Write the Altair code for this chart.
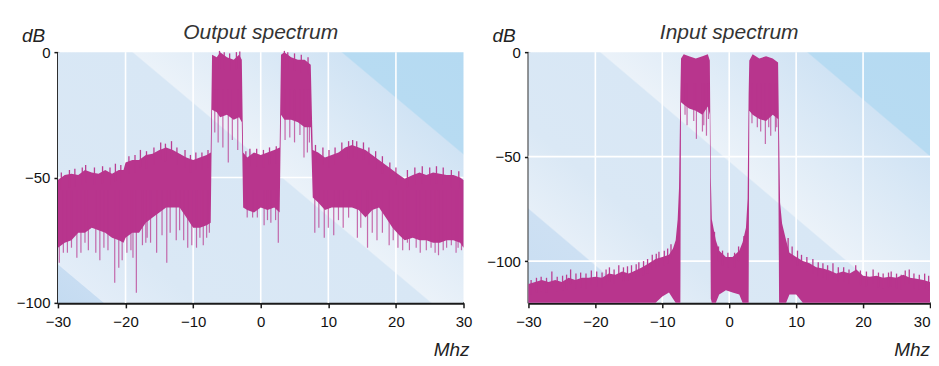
import altair as alt
import pandas as pd

MAG = "#b8358d"
H = 251
W_L = 406
W_R = 402

titles = ["Output spectrum", "Input spectrum"]
x_ticks = [-30, -20, -10, 0, 10, 20, 30]
x_grid = [-20, -10, 0, 10, 20]

# ---------------- Output spectrum (left) ----------------
out_f = [-30, -29, -28, -27, -26, -25, -24, -23, -22, -21, -20.3, -20, -19, -18, -17, -16,
         -15, -14, -13, -12, -11, -10, -9, -8, -7.4, -7.2, -6.5, -6, -5, -4, -3.2, -2.8,
         -2.6, -2, -1, 0, 1, 2, 2.8, 3.0, 3.5, 4.5, 5.5, 6.5, 7.4, 7.7, 8.5, 9.5, 10.5,
         11.5, 12.5, 13.5, 14.5, 15.5, 16.5, 17.5, 18.5, 19.5, 20.5, 21.3, 22.5, 23.5,
         24.5, 25.5, 26.5, 27.5, 28.5, 29.5, 30]
out_up = [-51, -49, -48.5, -49, -47, -48, -48.5, -47, -48.5, -47, -47, -44, -43, -43, -41, -40.5,
          -39, -38, -39, -40.5, -42, -43, -42, -41, -40, -1, -2, 0, -2, -3, -1, -3,
          -40, -42, -40, -41, -40, -39, -38, -1, 0, -2, -3, -3, -5, -39, -40, -42, -41,
          -40, -38, -37, -38, -39, -41, -43, -45, -47, -49, -50.5, -49, -48,
          -49, -48, -48.5, -49, -49, -50, -51]
out_lo = [-78, -76, -75, -72, -72, -70, -71, -72, -74, -75, -76, -74, -72, -72, -68, -66,
          -64, -62, -62, -62, -66, -70, -70, -69, -68, -23, -24, -26, -25, -27, -26, -28,
          -62, -63, -64, -62, -63, -62, -64, -25, -27, -27, -28, -30, -30, -58, -60, -63, -62,
          -62, -62, -62, -63, -66, -63, -62, -66, -70, -73, -75, -74, -75,
          -75, -76, -76, -75, -75, -76, -78]

out_spike_f = [-29.8, -29.2, -28.6, -28.0, -27.2, -26.6, -26.0, -25.5, -24.4, -23.8, -23.2,
               -22.6, -21.6, -21.0, -20.5, -19.8, -19.2, -18.9, -18.4, -17.5, -17.0, -16.8,
               -16.3, -15.4, -14.6, -13.9, -13.4, -12.5, -12.0, -11.4, -10.8, -10.2, -9.5,
               -9.0, -8.5, -8.0, -7.6, -6.8, -6.3, -5.6, -4.8, -4.2, -3.4, -2.0, -1.2, -0.5,
               0.5, 1.0, 1.5, 2.2, 2.6, 3.6, 4.3, 5.0, 5.8, 6.4, 6.9, 7.2, 8.0, 8.6, 9.4,
               10.0, 10.8, 11.5, 12.2, 13.0, 14.3, 14.8, 15.8, 16.5, 17.2, 18.0, 19.0, 19.6,
               20.3, 21.0, 21.7, 22.0, 23.0, 23.6, 24.5, 25.2, 25.8, 26.3, 27.0, 27.5, 28.2,
               28.9, 29.2, 29.7]
out_spike_db = [-84, -80, -80, -78, -82, -80, -76, -79, -80, -83, -78,
                -79, -92, -86, -83, -80, -79, -82, -96, -77, -76, -74,
                -76, -80, -73, -84, -72, -75, -71, -75, -78, -77, -78,
                -74, -77, -74, -72, -32, -36, -38, -44, -35, -39, -66, -66, -66,
                -69, -67, -68, -67, -76, -35, -34, -36, -33, -42, -40, -36, -72, -70, -74,
                -70, -73, -67, -70, -66, -74, -70, -78, -72, -75, -72, -77, -75,
                -78, -79, -76, -79, -78, -80, -79, -78, -80, -81, -79, -78, -77,
                -80, -78, -79]
out_peak_f = [-29.5, -28.3, -27.5, -26.4, -25.9, -24.6, -23.4, -22.3, -21.5, -20.7, -19.5,
              -18.6, -17.8, -16.9, -15.8, -14.8, -14.1, -13.2, -12.4, -11.2, -10.4, -9.6,
              -8.7, -7.8, -6.1, -5.4, -4.6, -3.6, -3.1, -2.2, -1.6, -0.6, 0.4, 1.3, 2.3,
              3.5, 4.0, 5.0, 6.0, 7.0, 8.1, 9.2, 10.1, 11.0, 12.0, 13.0, 13.6, 14.2, 15.2,
              16.0, 17.0, 18.0, 19.1, 20.0, 21.7, 22.8, 23.9, 25.0, 26.0, 27.0, 28.2, 29.3]
out_peak_db = [-48, -47, -46.5, -46, -45, -46, -45.5, -46, -44.5, -45, -41.5,
               -41, -39, -39.5, -38, -36, -36.5, -35.5, -38, -39, -41, -40,
               -40, -39, 0.5, 0, -0.5, 0, 0.3, -39.5, -38.5, -38.5, -39, -38, -37.5,
               0.5, 0, -0.5, -1, -2, -37, -38, -39, -38, -36, -35.5, -35, -35.5, -36,
               -38, -39.5, -41.5, -44, -46, -47, -46, -45.5, -46, -45.5, -46, -47, -47.5]

# ---------------- Input spectrum (right) ----------------
in_f = [-30, -29, -28, -27, -26, -25, -24, -23, -22, -21, -20, -19, -18, -17, -16, -15, -14,
        -13, -12, -11, -10, -9, -8.4, -8, -7.7, -7.5, -7.3, -7.2, -6.8, -6, -5, -4, -3.2,
        -2.9, -2.75, -2.6, -2, -1.5, -0.5, 0.5, 1.5, 2, 2.5, 2.75, 2.9, 3.0, 3.5, 4.5, 5.5,
        6.5, 7.3, 7.45, 7.6, 7.9, 8.5, 9, 10, 11, 12, 13, 14, 15, 16, 17, 18, 19, 20, 21,
        22, 23, 24, 25, 26, 27, 28, 29, 30]
in_up = [-111, -110, -109, -110, -109, -110, -108, -109, -108, -108, -107.5, -108, -106, -106.5,
         -105, -106, -104.5, -103, -101, -99, -98, -97, -94, -90, -80, -65, -20, -3, -1, -2,
         -3, -2, -1, -4, -60, -80, -90, -95, -98, -98, -95, -91, -84, -70, -20, -4, -1, -3,
         -2, -3, -5, -40, -72, -82, -90, -96, -98, -100, -101, -103, -103.5, -104.5, -106,
         -105, -106, -104, -107, -107.5, -107, -108, -107.5, -108, -106.5, -108, -108.5,
         -109, -110]
in_lo = [-120, -120, -120, -120, -120, -120, -120, -120, -120, -120, -120, -120, -120, -120,
         -120, -120, -120, -120, -120, -120, -117, -115, -118, -120, -120, -120, -120, -24,
         -25, -27, -28, -30, -26, -30, -118, -120, -120, -116, -114, -115, -116, -120, -120,
         -120, -120, -28, -30, -32, -33, -30, -32, -120, -120, -120, -120, -116, -116, -120,
         -120, -120, -120, -120, -120, -120, -120, -120, -120, -120, -120, -120, -120, -120,
         -120, -120, -120, -120, -120]

in_spike_f = [-6.6, -6.3, -5.3, -4.9, -4.0, -3.8, -3.4, -3.1, 3.4, 4.2, 4.7, 5.4, 5.9, 6.2, 6.9, 7.1]
in_spike_db = [-30, -35, -33, -41.5, -38, -35, -40, -32, -34, -36, -38, -44, -36, -40, -38, -36]
in_peak_f = [-29.6, -28.8, -28.1, -27.3, -26.5, -25.7, -24.9, -24.3, -23.7, -22.9, -22.2,
             -21.4, -20.6, -19.8, -19.0, -18.4, -17.9, -17.2, -16.5, -15.8, -15.2, -14.6,
             -13.9, -13.5, -12.8, -12.2, -11.5, -10.9, -10.5, -9.7, -9.2, -8.7,
             -2.2, -1.6, -1.0, -0.2, 0.8, 1.4, 2.2,
             8.8, 9.4, 10.2, 10.8, 11.6, 12.5, 13.3, 14.0, 14.7, 15.5, 16.3, 17.1, 17.9,
             18.9, 19.6, 20.5, 21.5, 22.3, 23.0, 23.8, 24.2, 25.0, 25.7, 26.3, 26.9, 27.6,
             28.4, 29.2, 29.8]
in_peak_db = [-109, -108, -107.5, -108, -105, -107.5, -107, -106.5, -104, -106, -105.5,
              -106, -104.5, -105, -105.5, -104, -103, -104, -102, -103, -102.5, -102,
              -101.5, -100.5, -100, -99, -97, -96.5, -95.5, -95, -94, -92,
              -86, -93, -95, -96, -96, -93, -88,
              -89, -93, -95, -97, -98, -99, -100.5, -101, -102, -101, -103, -103, -104,
              -102, -104.5, -105, -104, -105.5, -106, -105.5, -105, -106, -106.5, -104.5,
              -104, -106, -106.5, -106, -107]

out_stops = [(0, "#c4dbf1"), (0.064, "#c8ddf2"), (0.066, "#e3edf8"), (0.2, "#dae8f5"),
             (0.529, "#d8e7f5"), (0.532, "#ebf2f9"), (0.826, "#d0e3f4"), (0.829, "#b7dbf2"),
             (1, "#b5daf2")]
in_stops = [(0, "#c9def2"), (0.158, "#cde0f3"), (0.161, "#e6eff8"), (0.3, "#dae8f5"),
            (0.526, "#d8e7f5"), (0.529, "#ebf2f9"), (0.823, "#d0e3f4"), (0.826, "#b7dbf2"),
            (1, "#b5daf2")]


def in_band(v):
    return (-7.2 < v < -2.8) or (3.0 < v < 7.4)


def panel(title, f, up, lo, sf, sdb, pf, pdb, ymin, yticks, ygrid, W, stops, last_right, mhz_dx):
    assert len(f) == len(up) == len(lo)
    assert len(sf) == len(sdb) and len(pf) == len(pdb)
    xs = alt.Scale(domain=[-30, 30], nice=False, zero=False)
    ys = alt.Scale(domain=[ymin, 0], nice=False, zero=False)
    if last_right:
        lab_align = {"condition": {"test": "datum.value == 30", "value": "right"}, "value": "center"}
    else:
        lab_align = "center"
    xax = alt.Axis(values=x_ticks, grid=False, format="d", labelFlush=False,
                   labelOverlap=False, labelAlign=lab_align, domainColor="#1a1a1a",
                   domainWidth=2.8, tickColor="#1a1a1a", tickSize=5, tickWidth=1.5,
                   labelFontSize=15, labelColor="#111111", labelPadding=7, title=None)
    yax = alt.Axis(values=yticks, grid=False, format="d", labelOverlap=False,
                   domainColor="#1a1a1a", domainWidth=2.8, tickColor="#1a1a1a",
                   tickSize=4, tickWidth=1.5, labelFontSize=15, labelColor="#111111",
                   labelPadding=4, title=None)
    one = pd.DataFrame({"k": [0]})
    grad = {"gradient": "linear", "x1": 0, "y1": 1, "x2": 1.125, "y2": 0.171,
            "stops": [{"offset": o, "color": c} for o, c in stops]}
    bg = alt.Chart(one).mark_rect(fill=grad, strokeWidth=0).encode(
        x=alt.value(0), x2=alt.value(W), y=alt.value(0), y2=alt.value(H))
    vgrid = alt.Chart(pd.DataFrame({"f": x_grid})).mark_rule(
        color="white", strokeWidth=1.6).encode(x=alt.X("f:Q", scale=xs, axis=xax))
    hgrid = alt.Chart(pd.DataFrame({"up": ygrid})).mark_rule(
        color="white", strokeWidth=1.6).encode(y=alt.Y("up:Q", scale=ys, axis=yax))
    df = pd.DataFrame({"f": f, "up": up, "lo": lo})
    area = alt.Chart(df).mark_area(color=MAG, opacity=1).encode(
        x=alt.X("f:Q", scale=xs, axis=xax),
        y=alt.Y("up:Q", scale=ys, axis=yax),
        y2="lo:Q")
    sp = pd.DataFrame({"f": sf, "up": sdb,
                       "lo": [-15 if in_band(v) else (ymin + 65 if ymin < -110 else -55) for v in sf]})
    spikes = alt.Chart(sp).mark_rule(color=MAG, strokeWidth=1.2, opacity=0.72).encode(
        x=alt.X("f:Q", scale=xs, axis=xax), y=alt.Y("up:Q", scale=ys, axis=yax), y2="lo:Q")
    pk = pd.DataFrame({"f": pf, "up": pdb, "lo": [v - 7 for v in pdb]})
    peaks = alt.Chart(pk).mark_rule(color=MAG, strokeWidth=1.3, opacity=0.95).encode(
        x=alt.X("f:Q", scale=xs, axis=xax), y=alt.Y("up:Q", scale=ys, axis=yax), y2="lo:Q")
    ttl = alt.Chart(pd.DataFrame({"t": [title]})).mark_text(
        fontSize=21, fontStyle="italic", color="#333333", align="center",
        baseline="alphabetic").encode(x=alt.value(W / 2), y=alt.value(-13), text="t:N")
    ylab = alt.Chart(pd.DataFrame({"t": ["dB"]})).mark_text(
        fontSize=19, fontStyle="italic", color="#222222", align="left",
        baseline="alphabetic").encode(x=alt.value(-36), y=alt.value(-10), text="t:N")
    xlab = alt.Chart(pd.DataFrame({"t": ["Mhz"]})).mark_text(
        fontSize=19, fontStyle="italic", color="#222222", align="right",
        baseline="alphabetic").encode(x=alt.value(W + mhz_dx), y=alt.value(H + 53), text="t:N")
    return alt.layer(bg, vgrid, hgrid, area, spikes, peaks, ttl, ylab, xlab).properties(
        width=W, height=H)


left = panel(titles[0], out_f, out_up, out_lo, out_spike_f, out_spike_db,
             out_peak_f, out_peak_db, -100, [0, -50, -100], [-50], W_L, out_stops, False, 6)
right = panel(titles[1], in_f, in_up, in_lo, in_spike_f, in_spike_db,
              in_peak_f, in_peak_db, -120, [0, -50, -100], [-50, -100], W_R, in_stops, True, 0)

chart = alt.hconcat(left, right, spacing=65, bounds="flush").properties(
    padding={"left": 8, "top": 14, "right": 0, "bottom": 0}
).configure(font="Liberation Sans", background="white").configure_view(strokeWidth=0)

chart.save("out.html", embed_options={"renderer": "svg", "actions": False})
